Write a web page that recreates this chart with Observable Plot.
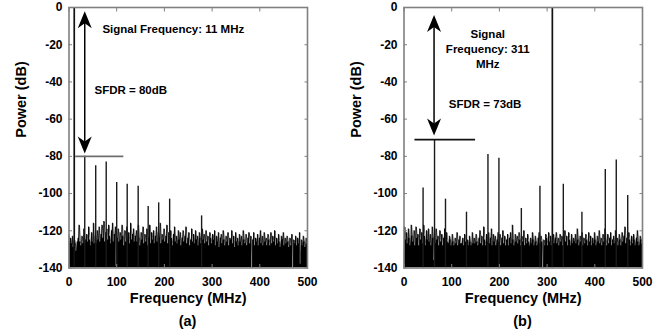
<!DOCTYPE html>
<html><head><meta charset="utf-8">
<script src="https://cdn.jsdelivr.net/npm/d3@7"></script>
<script src="https://cdn.jsdelivr.net/npm/@observablehq/plot@0.6"></script>
<style>
body{margin:0;background:#fff;font-family:"Liberation Sans",Arial,sans-serif;}
#wrap{position:relative;width:670px;height:333px;display:flex;}
.panel{position:relative;width:335px;height:333px;}
.cap{position:absolute;top:310px;left:0;width:375px;height:23px;line-height:23px;text-align:center;font-weight:bold;font-size:14.5px;color:#000;}
</style>
</head><body>
<div id="wrap"><div class="panel" id="pa"></div><div class="panel" id="pb"></div></div>
<script>
// ---- data ----
const binStepMHz = 2;
const yTicks = [0, -20, -40, -60, -80, -100, -120, -140];
const xTicks = [0, 100, 200, 300, 400, 500];

// Panel (a): noise floor (dB), one value per 2 MHz bin, 0..500 MHz
const noiseA = [
 -122,-126,-124,-127,-123,-129,-125,-127,-131,-126,
 -124,-117,-126,-128,-123,-127,-119,-127,-125,-122,
 -126,-118,-125,-128,-121,-126,-116,-127,-123,-127,
 -120,-125,-118,-126,-122,-117,-124,-115,-126,-121,
 -119,-125,-117,-123,-127,-120,-116,-126,-122,-118,
 -139,-124,-119,-126,-121,-125,-117,-123,-128,-120,
 -126,-118,-124,-121,-127,-116,-125,-122,-119,-126,
 -123,-120,-126,-117,-124,-128,-121,-125,-118,-127,
 -122,-126,-119,-128,-124,-117,-127,-121,-125,-120,
 -127,-123,-118,-126,-121,-124,-116,-127,-122,-125,
 -119,-126,-123,-117,-127,-121,-125,-120,-124,-128,
 -122,-118,-126,-123,-127,-120,-125,-121,-128,-124,
 -120,-126,-123,-118,-127,-124,-121,-128,-125,-119,
 -126,-122,-127,-120,-125,-123,-128,-121,-124,-127,
 -119,-125,-122,-127,-120,-126,-123,-128,-121,-124,
 -127,-122,-125,-120,-128,-123,-126,-121,-129,-124,
 -122,-127,-120,-125,-128,-123,-126,-121,-128,-124,
 -125,-120,-127,-123,-129,-121,-126,-124,-128,-122,
 -126,-123,-128,-120,-125,-127,-122,-128,-124,-121,
 -127,-123,-140,-125,-121,-128,-124,-126,-122,-128,
 -124,-120,-127,-123,-128,-121,-126,-124,-128,-122,
 -125,-128,-121,-127,-123,-126,-120,-128,-124,-127,
 -122,-126,-129,-123,-125,-121,-128,-124,-127,-123,
 -126,-129,-124,-128,-122,-140,-125,-127,-123,-128,
 -124,-127,-121,-138,-125,-128,-123,-126,-129,-124,-127
];
const spurFreqA = [33, 56, 78, 100, 122, 145, 166, 188, 211, 278];
const spurPowA  = [-80, -85, -83, -94, -95, -96, -107, -105, -103, -112];
const signalFreqA = 11;
const sfdrLevelA = -80;

// Panel (b)
const noiseB = [
 -132,-118,-125,-121,-127,-119,-124,-128,-117,-123,
 -126,-120,-128,-118,-124,-122,-128,-119,-125,-121,
 -127,-117,-123,-128,-120,-125,-119,-126,-122,-128,
 -118,-124,-136,-127,-119,-125,-123,-128,-120,-126,
 -122,-128,-124,-119,-127,-121,-126,-127,-123,-125,
 -128,-122,-126,-128,-124,-127,-121,-128,-125,-123,
 -127,-127,-124,-128,-122,-126,-128,-125,-128,-123,
 -126,-128,-121,-127,-124,-127,-122,-126,-128,-124,
 -120,-127,-123,-128,-118,-125,-128,-122,-126,-121,
 -127,-124,-119,-128,-122,-126,-123,-128,-125,-121,
 -126,-122,-128,-124,-120,-127,-123,-128,-125,-122,
 -128,-124,-121,-127,-117,-125,-128,-122,-126,-123,
 -127,-121,-125,-128,-123,-126,-120,-128,-124,-127,
 -122,-126,-128,-124,-127,-121,-125,-128,-123,-126,
 -128,-124,-121,-127,-123,-126,-140,-125,-128,-122,
 -124,-128,-121,-126,-123,-128,-125,-122,-127,-124,
 -121,-127,-124,-128,-122,-126,-123,-128,-125,-120,
 -126,-123,-128,-121,-125,-128,-122,-127,-124,-126,
 -122,-127,-119,-125,-128,-123,-126,-121,-128,-124,
 -127,-122,-125,-128,-121,-126,-123,-128,-124,-127,
 -121,-125,-128,-123,-126,-120,-127,-124,-128,-122,
 -126,-119,-125,-128,-122,-127,-124,-121,-128,-125,
 -123,-127,-120,-126,-124,-128,-122,-125,-128,-121,
 -126,-123,-118,-127,-124,-128,-121,-125,-128,-123,
 -127,-122,-125,-128,-124,-120,-126,-128,-123,-125,-127
];
const spurFreqB = [40, 64, 87, 131, 176, 199, 246, 285, 334, 373, 422, 445, 469];
const spurPowB  = [-97, -71, -103, -110, -79, -81, -108, -96, -95, -110, -87, -82, -101];
const signalFreqB = 311;
const sfdrLevelB = -71;

// ---- build & draw ----
const arrowHead = {
  draw(ctx) {
    const w = 7, L = 17, n = 12;
    ctx.moveTo(0, 0); ctx.lineTo(w, L); ctx.lineTo(0, n); ctx.lineTo(-w, L); ctx.closePath();
  }
};
const FONT = "'Liberation Sans', Arial, sans-serif";

function panel(o) {
  const noise = o.noise.map((p, i) => ({f: i * binStepMHz, p}));
  const spurs = o.spurF.map((f, i) => ({f, p: o.spurP[i]}));
  const heads = [{f: o.arrowF, p: o.arrowTop, r: 0}, {f: o.arrowF, p: o.arrowBot, r: 180}];
  const gray = "#808080";
  return Plot.plot({
    width: 335, height: 310,
    marginTop: 7, marginBottom: 42.5, marginLeft: 68.5, marginRight: 28,
    x: {domain: [0, 500]},
    y: {domain: [-140, 0]},
    style: {fontFamily: FONT, background: "#fff", color: "#000"},
    marks: [
      Plot.areaY(noise, {x: "f", y1: -140, y2: "p", fill: "#000", curve: "step", clip: true}),
      Plot.line(noise, {x: "f", y: "p", stroke: "#000", strokeWidth: 0.6, clip: true}),
      Plot.ruleX(spurs, {x: "f", y1: -140, y2: "p", stroke: "#1a1a1a", strokeWidth: 1.4}),
      Plot.ruleX([o.signalF], {x: d => d, y1: -140, y2: 0, stroke: "#111", strokeWidth: 1.7}),
      Plot.ruleY([o.sfdr], {y: d => d, x1: o.lineX1, x2: o.lineX2, stroke: o.lineColor, strokeWidth: 1.6}),
      Plot.ruleX([o.arrowF], {x: d => d, y1: o.arrowTop - 6, y2: o.arrowBot + 6, stroke: "#000", strokeWidth: 1.5}),
      Plot.dot(heads, {x: "f", y: "p", rotate: "r", symbol: arrowHead, fill: "#000", stroke: "none"}),
      ...o.texts.map(t => Plot.text([t.s], {x: t.f, y: t.p, textAnchor: t.anchor, lineHeight: 1.28,
        fontSize: 11.5, fontWeight: "bold", fill: "#000"})),
      Plot.frame({stroke: gray, strokeWidth: 1.6}),
      Plot.axisY({anchor: "left", ticks: yTicks, tickSize: 0, tickPadding: 6.5, tickFormat: d => String(d),
        fontSize: 12, fontWeight: "bold", label: null}),
      Plot.axisX({anchor: "bottom", ticks: xTicks, tickSize: 0, tickPadding: 9, tickFormat: d => String(d),
        fontSize: 12, fontWeight: "bold", label: null}),
      Plot.axisY({anchor: "left", ticks: yTicks, tickSize: -3.5, tickFormat: () => "", stroke: gray, label: null}),
      Plot.axisY({anchor: "right", ticks: yTicks, tickSize: -3.5, tickFormat: () => "", stroke: gray, label: null}),
      Plot.axisX({anchor: "bottom", ticks: xTicks, tickSize: -3.5, tickFormat: () => "", stroke: gray, label: null}),
      Plot.axisX({anchor: "top", ticks: xTicks, tickSize: -3.5, tickFormat: () => "", stroke: gray, label: null}),
      Plot.text(["Power (dB)"], {frameAnchor: "left", dx: -47.5, rotate: -90, fontSize: 14.5, fontWeight: "bold", fill: "#000"}),
      Plot.text(["Frequency (MHz)"], {frameAnchor: "bottom", dy: 34.5, fontSize: 14.5, fontWeight: "bold", fill: "#000"})
    ]
  });
}

const pa = panel({
  noise: noiseA, spurF: spurFreqA, spurP: spurPowA, signalF: signalFreqA, sfdr: sfdrLevelA,
  lineX1: 14, lineX2: 115, lineColor: "#6e6e6e",
  arrowF: 33, arrowTop: -2, arrowBot: -78.5,
  texts: [
    {s: "Signal Frequency: 11 MHz", f: 70, p: -11.2, anchor: "start"},
    {s: "SFDR = 80dB", f: 53.5, p: -44, anchor: "start"}
  ]
});
const pb = panel({
  noise: noiseB, spurF: spurFreqB, spurP: spurPowB, signalF: signalFreqB, sfdr: sfdrLevelB,
  lineX1: 23, lineX2: 150, lineColor: "#111",
  arrowF: 63, arrowTop: -4, arrowBot: -68.8,
  texts: [
    {s: "Signal\nFrequency: 311\nMHz", f: 175.5, p: -22, anchor: "middle"},
    {s: "SFDR = 73dB", f: 94, p: -51.6, anchor: "start"}
  ]
});
document.getElementById("pa").append(pa);
document.getElementById("pb").append(pb);
for (const [id, t] of [["pa", "(a)"], ["pb", "(b)"]]) {
  const c = document.createElement("div");
  c.className = "cap"; c.textContent = t;
  document.getElementById(id).append(c);
}
</script>
</body></html>
